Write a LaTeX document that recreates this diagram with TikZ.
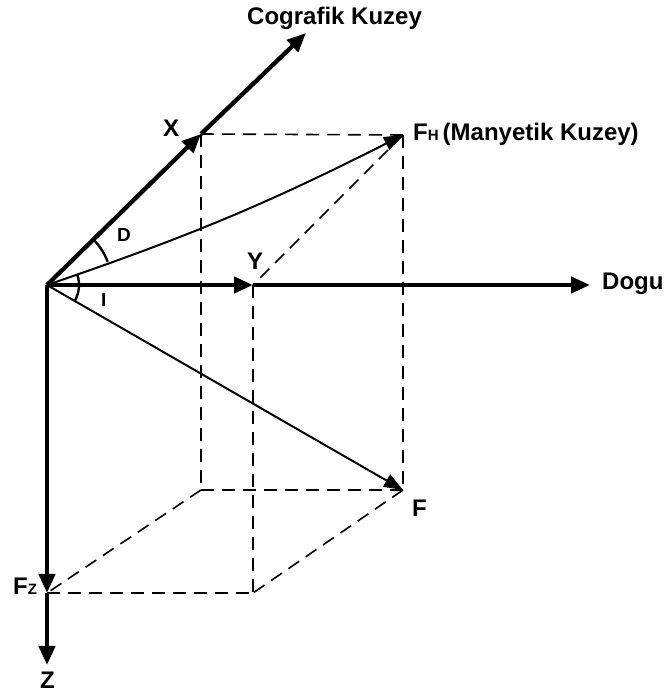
\documentclass[tikz,border=0pt]{standalone}
\usepackage{fontspec}
\setmainfont{Liberation Sans}
\usetikzlibrary{arrows.meta}
\begin{document}
\begin{tikzpicture}[x=1pt,y=1pt,
  axis/.style={line width=4.3pt, -{Triangle[length=19pt,width=16pt]}},
  axisplain/.style={line width=4.3pt},
  vec/.style={line width=2pt, -{Triangle[length=19pt,width=14pt]}},
  guide/.style={line width=1.6pt, dash pattern=on 13pt off 8pt},
  anglearc/.style={line width=2.4pt},
  lab/.style={font=\bfseries\fontsize{24}{24}\selectfont, inner sep=0pt, anchor=base west},
  smalllab/.style={font=\bfseries\fontsize{19}{19}\selectfont, inner sep=0pt, anchor=base west}]
\useasboundingbox (0,0) rectangle (666,697);
% points
\coordinate (O) at (47,412);
\coordinate (X) at (201,563);
\coordinate (CK) at (306,664);
\coordinate (FH) at (403,562);
\coordinate (Y) at (253,412);
\coordinate (E) at (590,412);
\coordinate (F) at (403,207);
\coordinate (B1) at (201,207);
\coordinate (B2) at (253,104);
\coordinate (Fz) at (47,104);
\coordinate (Zt) at (47,32);
% dashed box
\draw[guide] (X) -- (FH);
\draw[guide] (X) -- (B1);
\draw[guide] (FH) -- (F);
\draw[guide] (B1) -- (F);
\draw[guide] (FH) -- (Y);
\draw[guide] (Y) -- (B2);
\draw[guide] (Fz) -- (B2);
\draw[guide] (B1) -- (Fz);
\draw[guide] (F) -- (B2);
% axes
\draw[axis] (O) -- (X);
\draw[axis] (X) -- (CK);
\draw[axis] (O) -- (Y);
\draw[axis] (Y) -- (E);
\draw[axis] (O) -- (Fz);
\draw[axis] (Fz) -- (Zt);
% vectors
\draw[vec] (O) to[bend right=4] (FH);
\draw[vec] (O) -- (F);
% angles
\draw[anglearc] (O) ++(21:65) arc[start angle=21, end angle=44.4, radius=65];
\draw[anglearc] (O) ++(19.5:32) arc[start angle=19.5, end angle=-29.9, radius=32];
% labels
\node[lab] (lck) at (247,672) {Cografik Kuzey};
\node[lab] (lx) at (163,560) {X};
\node[lab] (lfh) at (413,556) {F{\fontsize{15}{15}\selectfont H}\,(Manyetik Kuzey)};
\node[lab] (ly) at (247,427) {Y};
\node[smalllab] (ld) at (117,455) {D};
\node[smalllab] (li) at (101,390) {I};
\node[lab] (le) at (602,407) {Dogu};
\node[lab] (lf) at (412,180) {F};
\node[lab] (lfz) at (13,102) {F{\fontsize{15}{15}\selectfont Z}};
\node[lab] (lz) at (40,9) {Z};
\end{tikzpicture}
\end{document}
